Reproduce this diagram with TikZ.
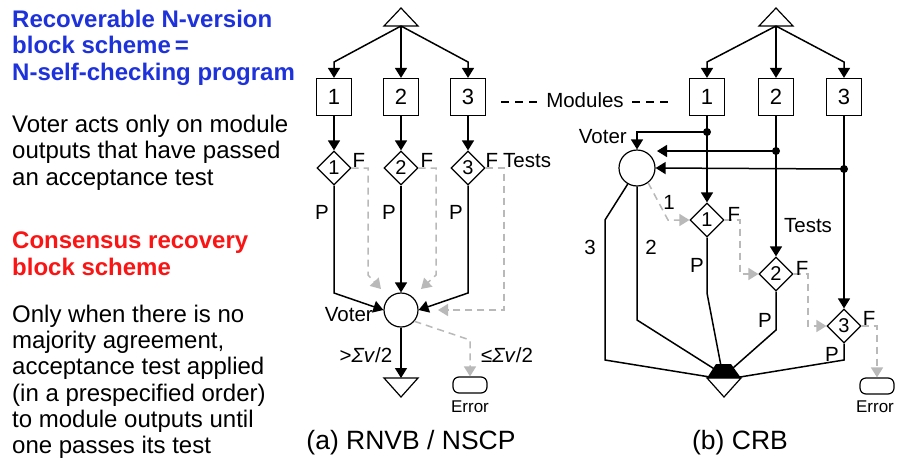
\documentclass[tikz,border=0pt]{standalone}
\usepackage{fontspec}
\setmainfont{Liberation Sans}
\usetikzlibrary{arrows.meta,shapes.geometric,calc}

\definecolor{headblue}{RGB}{30,50,220}
\definecolor{headred}{RGB}{250,20,20}
\definecolor{failgrey}{RGB}{185,185,185}

\begin{document}
\begin{tikzpicture}[x=1pt,y=-1pt,
  flow/.style={line width=1.5pt,-{Triangle[length=10pt,width=12pt]}},
  wire/.style={line width=1.5pt},
  outline/.style={line width=1.2pt},
  fail/.style={line width=1.5pt,draw=failgrey,dash pattern=on 7pt off 5pt,
    -{Triangle[length=10pt,width=12pt,fill=failgrey]}},
  module/.style={draw,line width=1.2pt,minimum width=35pt,minimum height=37pt,
    inner sep=0pt,font=\fontsize{22}{22}\selectfont},
  test/.style={draw,diamond,line width=1.2pt,minimum width=34pt,minimum height=34pt,
    inner sep=0pt,font=\fontsize{20}{20}\selectfont},
  voter/.style={draw,circle,line width=1.2pt,minimum size=34pt,inner sep=0pt},
  errbox/.style={draw,rounded corners=6pt,line width=1.2pt,minimum width=34pt,
    minimum height=16pt,inner sep=0pt},
  lbl/.style={font=\fontsize{20.5}{20.5}\selectfont,inner sep=0pt},
  small/.style={font=\fontsize{17}{17}\selectfont,inner sep=0pt},
  caption/.style={font=\fontsize{26.5}{26.5}\selectfont,inner sep=0pt},
  body/.style={font=\fontsize{24}{24}\selectfont,inner sep=0pt,anchor=base west},
  heading/.style={font=\bfseries\fontsize{24}{24}\selectfont,inner sep=0pt,anchor=base west},
  dot/.style={circle,fill,inner sep=0pt,minimum size=8pt}
]
\useasboundingbox[fill=white] (0,0) rectangle (899,469);

% ---------------- explanatory text ----------------
\node[heading,text=headblue] (h1) at (12,27) {Recoverable N-version};
\node[heading,text=headblue] (h2) at (12,53) {block scheme\,=};
\node[heading,text=headblue] (h3) at (12,80) {N-self-checking program};
\node[body] (b1) at (12,132) {Voter acts only on module};
\node[body] (b2) at (12,158) {outputs that have passed};
\node[body] (b3) at (12,185) {an acceptance test};
\node[heading,text=headred] (r1) at (12,248) {Consensus recovery};
\node[heading,text=headred] (r2) at (12,275) {block scheme};
\node[body] (c1) at (12,322) {Only when there is no};
\node[body] (c2) at (12,348) {majority agreement,};
\node[body] (c3) at (12,374) {acceptance test applied};
\node[body] (c4) at (12,401) {(in a prespecified order)};
\node[body] (c5) at (12,427) {to module outputs until};
\node[body] (c6) at (12,453) {one passes its test};

% ---------------- (a) RNVB / NSCP ----------------
\coordinate (ina) at (401,26);
\draw[outline] (ina) ++(-17,0) -- ++(34,0) -- (401,8) -- cycle;

\node[module] (m1a) at (334,97) {1};
\node[module] (m2a) at (401,97) {2};
\node[module] (m3a) at (468,97) {3};
\draw[flow] (ina) -- (334,62) -- (m1a.north);
\draw[flow] (ina) -- (m2a.north);
\draw[flow] (ina) -- (468,62) -- (m3a.north);

\node[test] (t1a) at (334,168) {1};
\node[test] (t2a) at (401,168) {2};
\node[test] (t3a) at (468,168) {3};
\draw[flow] (m1a) -- (t1a);
\draw[flow] (m2a) -- (t2a);
\draw[flow] (m3a) -- (t3a);

\node[voter] (va) at (401,310) {};
\draw[flow] (t1a) -- (334,293) -- (va.west);
\draw[flow] (t2a) -- (va);
\draw[flow] (t3a) -- (468,293) -- (va.east);

\coordinate (fa1) at (381,289);
\coordinate (fa2) at (421,289);
\coordinate (fa3) at (438,310);
\draw[fail] (t1a.east) -- (368,168) -- (368,275) -- (fa1);
\draw[fail] (t2a.east) -- (436,168) -- (436,275) -- (fa2);
\draw[fail] (t3a.east) -- (504,168) -- (504,310) -- (fa3);

\coordinate (outa) at (401,378);
\draw[outline] (outa) ++(-17,0) -- ++(34,0) -- (401,397) -- cycle;
\draw[flow] (va) -- (outa);

\node[errbox] (ea) at (470,385) {};
\draw[fail] (va.-40) -- (470,340) -- (ea.north);

\node[lbl] (fa1l) at (359,160) {F};
\node[lbl] (fa2l) at (427,160) {F};
\node[lbl] (fa3l) at (492,160) {F};
\node[lbl,anchor=west] (testsa) at (503,161) {Tests};
\node[lbl] (pa1) at (322,212) {P};
\node[lbl] (pa2) at (389,212) {P};
\node[lbl] (pa3) at (456,212) {P};
\node[lbl,anchor=east] (votera) at (373,315) {Voter};
\node[lbl] (majority) at (366,355) {>\textit{Σv}/2};
\node[lbl] (minority) at (507,355) {≤\textit{Σv}/2};
\node[small] (erra) at (470,407) {Error};
\node[caption] (capa) at (411,443) {(a) RNVB / NSCP};

% module label between the two diagrams
\node[lbl] (modlbl) at (585,100) {Modules};
\draw[line width=1.5pt,dash pattern=on 8pt off 6pt] (501,102) -- (540,102);
\draw[line width=1.5pt,dash pattern=on 8pt off 6pt] (632,102) -- (670,102);

% ---------------- (b) CRB ----------------
\coordinate (inb) at (776,26);
\draw[outline] (inb) ++(-17,0) -- ++(34,0) -- (776,8) -- cycle;

\node[module] (m1b) at (707,97) {1};
\node[module] (m2b) at (776,97) {2};
\node[module] (m3b) at (844,97) {3};
\draw[flow] (inb) -- (707,62) -- (m1b.north);
\draw[flow] (inb) -- (m2b.north);
\draw[flow] (inb) -- (844,62) -- (m3b.north);

\node[voter,minimum size=36pt] (vb) at (637,168) {};
\node[test] (t1b) at (707,220) {1};
\node[test] (t2b) at (776,274) {2};
\node[test] (t3b) at (844,326) {3};

\node[dot] (j1) at (707,132) {};
\node[dot] (j2) at (776,151) {};
\node[dot] (j3) at (844,169) {};

\draw[flow] (m1b) -- (t1b);
\draw[flow] (m2b) -- (t2b);
\draw[flow] (m3b) -- (t3b);
\coordinate (vb2) at (657,151);
\draw[flow] (j1.center) -| (vb.north);
\draw[flow] (j2.center) -- (vb2);
\draw[flow] (j3.center) -- (vb.east);

\draw[fail] (vb.-53) -- (668,220) -- (t1b.west);
\draw[fail] (t1b.east) -- (740,220) -- (740,274) -- (t2b.west);
\draw[fail] (t2b.east) -- (808,274) -- (808,326) -- (t3b.west);
\node[errbox] (eb) at (877,386) {};
\draw[fail] (t3b.east) -- (877,326) -- (eb.north);

% collector: merged arrowheads on an inverted triangle
\coordinate (cb) at (724,378);
\draw[outline] (cb) ++(-17,0) -- ++(34,0) -- (724,397) -- cycle;
\fill (707,378) -- (716,364) -- (731,364) -- (741,378) -- cycle;
\draw[wire] (vb.-120) -- (605,220) -- (605,360) -- (710,377);
\draw[wire] (vb.south) -- (637,320) -- (716,370);
\draw[wire] (t1b.south) -- (707,293) -- (721,366);
\draw[wire] (t2b.south) -- (776,330) -- (733,368);
\draw[wire] (t3b.south) -- (844,360) -- (740,377);

\node[lbl,anchor=east] (voterb) at (627,137) {Voter};
\node[lbl] (l3) at (590,247) {3};
\node[lbl] (l2) at (651,247) {2};
\node[lbl] (l1) at (669,202) {1};
\node[lbl] (fb1) at (734,214) {F};
\node[lbl] (fb2) at (802,268) {F};
\node[lbl] (fb3) at (869,318) {F};
\node[lbl] (pb1) at (697,265) {P};
\node[lbl] (pb2) at (765,320) {P};
\node[lbl] (pb3) at (832,354) {P};
\node[lbl] (testsb) at (808,226) {Tests};
\node[small] (errb) at (875,407) {Error};
\node[caption] (capb) at (740,443) {(b) CRB};
\end{tikzpicture}
\end{document}
